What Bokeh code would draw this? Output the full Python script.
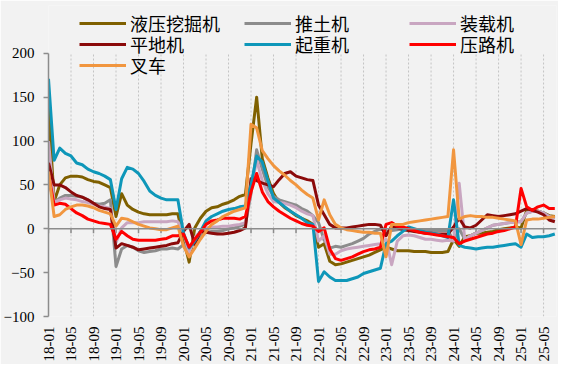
from math import pi
from bokeh.plotting import figure
from bokeh.models import Range1d, FixedTicker, Span, Legend, LegendItem
from bokeh.embed import file_html
from bokeh.resources import INLINE

# monthly cumulative YoY (%), 2018-01 .. 2025-07
tick_labels = ["18-01", "18-05", "18-09", "19-01", "19-05", "19-09", "20-01", "20-05",
               "20-09", "21-01", "21-05", "21-09", "22-01", "22-05", "22-09", "23-01",
               "23-05", "23-09", "24-01", "24-05", "24-09", "25-01", "25-05"]
y_ticks = [-100, -50, 0, 50, 100, 150, 200]

excavator = [140, 31, 50, 58, 60, 60, 59, 56, 54, 53, 50, 47,
             14, 40, 27, 22, 19, 17, 16, 16, 16, 16, 17, 17,
             -12, -38, 1, 12, 20, 24, 25, 28, 30, 33, 37, 39,
             97, 150, 80, 58, 40, 30, 24, 20, 15, 12, 9, 5,
             -21, -17, -37, -41, -40, -38, -36, -34, -32, -30, -27, -24,
             -21, -23, -25, -25, -25, -26, -26, -26, -27, -27, -27, -26,
             -12, -20, -9, -8, -5, -5, -4, -3, -1, 0, 1, 2,
             1, 21, 22, 20, 18, 15, 14]
bulldozer = [55, 30, 35, 38, 38, 37, 36, 33, 29, 28, 29, 33,
             -43, -23, -19, -21, -25, -27, -26, -25, -23, -23, -22, -23,
             -18, -25, -14, -8, -4, -3, -3, -2, 0, 1, 3, 5,
             40, 90, 68, 48, 37, 33, 31, 29, 27, 23, 20, 15,
             7, -13, -22, -20, -21, -19, -17, -14, -11, -6, -3, 0,
             -3, -2, -1, 0, 0, -1, -1, -2, -2, -2, -2, -2,
             -14, 0, -12, -8, -5, -2, 1, 4, 5, 6, 7, 8,
             8, 18, 20, 20, 18, 14, 12]
loader = [100, 30, 33, 35, 34, 33, 31, 30, 28, 26, 25, 23,
          -16, 1, 7, 7, 7, 8, 8, 8, 8, 8, 9, 8,
          -5, -27, -10, -3, 1, 2, 2, 3, 3, 4, 5, 7,
          45, 78, 55, 40, 31, 30, 29, 27, 24, 20, 17, 15,
          -14, -8, -29, -29, -25, -23, -22, -21, -20, -19, -18, -17,
          -12, -41, -14, -8, -7, -8, -10, -12, -12, -13, -14, -13,
          -14, 52, -12, -8, -5, -2, 1, 4, 5, 6, 7, 8,
          8, 18, 20, 20, 18, 14, 12]
grader = [75, 50, 50, 47, 42, 38, 36, 33, 29, 25, 23, 22,
          -22, -17, -19, -21, -24, -23, -22, -21, -20, -19, -17, -16,
          -3, 5, -18, -3, -4, -5, -6, -6, -5, -4, -2, 1,
          57, 55, 52, 50, 48, 56, 63, 65, 60, 58, 56, 55,
          27, 16, 5, 1, 1, 1, 2, 3, 4, 5, 5, 4,
          -8, 3, 1, -1, -2, -3, -4, -5, -5, -6, -6, -6,
          2, 12, 2, 1, 4, 10, 16, 15, 14, 15, 16, 17,
          20, 23, 21, 19, 16, 10, 8]
crane = [171, 78, 92, 86, 83, 75, 73, 68, 65, 63, 60, 56,
         22, 57, 70, 68, 63, 54, 43, 38, 35, 33, 33, 33,
         -5, -22, -14, -3, 9, 14, 17, 20, 22, 23, 25, 26,
         50, 83, 76, 55, 35, 30, 25, 20, 16, 12, 7, 5,
         -60, -49, -55, -59, -59, -59, -57, -55, -51, -49, -47, -45,
         -17, -14, -8, -3, 2, 0, -2, -4, -5, -6, -8, -10,
         33, -19, -21, -22, -23, -22, -21, -21, -20, -19, -18, -17,
         -21, -6, -10, -9, -9, -8, -6]
roller = [62, 27, 29, 28, 23, 18, 15, 11, 9, 7, 6, 5,
          -12, -3, -8, -12, -13, -13, -13, -13, -12, -11, -8, -8,
          -6, -21, -12, -4, 5, 9, 10, 12, 12, 12, 11, 14,
          42, 63, 42, 31, 25, 20, 16, 12, 9, 6, 4, 3,
          -3, 1, -23, -34, -36, -34, -32, -29, -26, -24, -23, -21,
          5, 7, 3, 2, 0, -2, -4, -5, -6, -7, -8, -9,
          -10, -17, -14, -12, -10, -8, -6, -5, -3, -2, 0, 2,
          46, 25, 21, 25, 27, 23, 23]
forklift = [65, 14, 16, 22, 25, 27, 27, 26, 24, 21, 19, 17,
            3, 12, 11, 8, 5, 3, 1, 0, -1, -1, 1, 3,
            -20, -32, -22, -12, -3, 5, 9, 14, 17, 20, 22, 24,
            119, 115, 89, 80, 72, 66, 61, 55, 50, 44, 39, 35,
            10, 33, 16, 5, 1, -1, -2, -3, -4, -4, -5, -5,
            -32, 5, 5, 5, 7, 8, 9, 10, 11, 12, 13, 14,
            90, 11, 14, 15, 14, 14, 13, 13, 12, 11, 10, 9,
            -18, 10, 11, 11, 12, 13, 14]

series_names = ["液压挖掘机", "推土机", "装载机", "平地机", "起重机", "压路机", "叉车"]
series_values = [excavator, bulldozer, loader, grader, crane, roller, forklift]
series_colors = ["#7f6000", "#8c8c8c", "#c9a6c1", "#8b0a0a", "#0e97b9", "#ff0000", "#f1963f"]

x = list(range(len(excavator)))
tick_pos = list(range(0, len(tick_labels) * 4, 4))
y_lo, y_hi = y_ticks[0], y_ticks[-1]

BG = "#f2f2f2"
FRAME_BOTTOM = 364 - 47
p = figure(width=558, height=364, output_backend="svg", toolbar_location=None,
           x_range=Range1d(0, 90.3), y_range=Range1d(y_lo, 254.5),
           background_fill_color=BG, border_fill_color=BG,
           min_border_left=46, min_border_right=2, min_border_top=5, min_border_bottom=47)
p.outline_line_color = None
p.xgrid.grid_line_color = None
p.ygrid.grid_line_color = None

# dotted vertical grid lines at the labelled months, from -100 to 200
p.segment(x0=tick_pos, y0=[y_lo] * len(tick_pos), x1=tick_pos, y1=[y_hi] * len(tick_pos),
          line_color="#c4c4c4", line_width=1, line_dash="2 2")
# small tick marks hanging from the zero line
p.segment(x0=tick_pos, y0=[0] * len(tick_pos), x1=tick_pos, y1=[-5] * len(tick_pos),
          line_color="#8c8c8c", line_width=1.5)

xa = p.xaxis[0]
xa.ticker = FixedTicker(ticks=tick_pos)
xa.major_label_overrides = {t: s for t, s in zip(tick_pos, tick_labels)}
xa.major_label_orientation = pi / 2
xa.axis_line_color = None
xa.major_tick_line_color = None
xa.minor_tick_line_color = None
xa.major_label_standoff = 4
xa.major_label_text_font = "Liberation Serif"
xa.major_label_text_font_size = "15px"
xa.major_label_text_color = "#000000"

ya = p.yaxis[0]
ya.ticker = FixedTicker(ticks=y_ticks)
ya.bounds = (y_lo, y_hi)
ya.axis_line_color = "#8c8c8c"
ya.axis_line_width = 1.5
ya.major_tick_line_color = "#8c8c8c"
ya.major_tick_line_width = 1.5
ya.major_tick_in = 0
ya.major_tick_out = 5
ya.minor_tick_line_color = None
ya.major_label_standoff = 9
ya.major_label_text_font = "Liberation Serif"
ya.major_label_text_font_size = "15px"
ya.major_label_text_color = "#000000"

p.add_layout(Span(location=0, dimension="width", line_color="#8c8c8c", line_width=1.5))

renderers = []
for vals, col in zip(series_values, series_colors):
    r = p.line(x, vals, line_color=col, line_width=3, line_join="round")
    renderers.append(r)

# legend: three rows, three columns (one horizontal legend per row)
ITEM_H = 26
row_centers = [24, 45, 66]
rows = [[0, 1, 2], [3, 4, 5], [6]]
for g, yc in zip(rows, row_centers):
    items = [LegendItem(label=series_names[i], renderers=[renderers[i]]) for i in g]
    top = yc - ITEM_H / 2
    leg = Legend(items=items, location=(31, FRAME_BOTTOM - top - ITEM_H), orientation="horizontal",
                 glyph_width=47, glyph_height=ITEM_H, label_height=ITEM_H, label_width=114,
                 label_standoff=4, spacing=0, padding=0, margin=0,
                 label_text_font="'Liberation Serif', 'Noto Sans CJK SC'", label_text_font_size="18px",
                 label_text_color="#000000", label_text_baseline="middle",
                 border_line_alpha=0, background_fill_alpha=0)
    p.add_layout(leg)

open("out.html", "w").write(file_html(p, INLINE))
